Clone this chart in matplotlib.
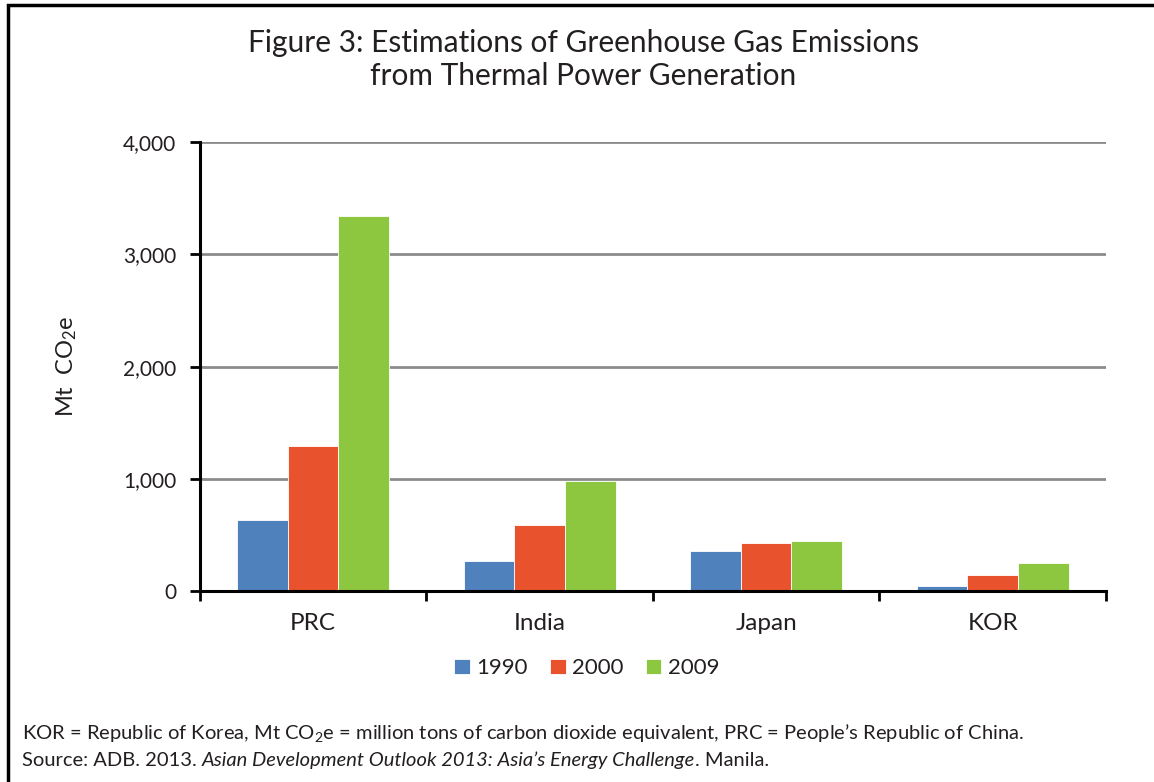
import matplotlib
matplotlib.use("Agg")
import matplotlib.pyplot as plt
import numpy as np
from matplotlib.patches import Rectangle

plt.rcParams['font.family'] = ['Lato', 'DejaVu Sans']
plt.rcParams['mathtext.fontset'] = 'custom'
plt.rcParams['mathtext.rm'] = 'Lato'
plt.rcParams['mathtext.it'] = 'Lato:italic'

# emissions, Mt CO2e
countries = ['PRC', 'India', 'Japan', 'KOR']
years = ['1990', '2000', '2009']
e1990 = [635, 267, 359, 45]
e2000 = [1291, 590, 427, 148]
e2009 = [3342, 982, 451, 249]
colors = ['#4F81BD', '#E8532D', '#8DC63F']
yticks = [0, 1000, 2000, 3000, 4000]

fig = plt.figure(figsize=(11.54, 7.82), dpi=100)
ax = fig.add_axes([0.1733, 0.2439, 0.7851, 0.5745])

x = np.arange(len(countries)) + 0.5
w = 0.223
for k, vals in enumerate([e1990, e2000, e2009]):
    ax.bar(x + (k - 1) * w, vals, w, color=colors[k], edgecolor='white',
           linewidth=0.6, label=years[k], zorder=3)

ax.set_xlim(0, len(countries))
ax.set_ylim(0, 4000)
ax.set_yticks(yticks)
ax.set_yticklabels(['{:,}'.format(v) for v in yticks], fontsize=15)
ax.set_xticks(np.arange(len(countries) + 1))
ax.set_xticklabels([])
for xi, name in zip(x, countries):
    ax.text(xi, -195, name, ha='center', va='top', fontsize=17.5, color='#231f20')

for v in yticks[1:]:
    ax.axhline(v, color='#8c8c8c', lw=2, zorder=1)

for s in ['top', 'right']:
    ax.spines[s].set_visible(False)
for s in ['left', 'bottom']:
    ax.spines[s].set_linewidth(2.2)
    ax.spines[s].set_zorder(4)
ax.tick_params(axis='both', direction='out', length=7, width=2, color='black',
               labelcolor='#231f20')
ax.tick_params(axis='y', pad=10)

ax.set_ylabel('Mt  CO$_2$e', fontsize=17, color='#231f20', labelpad=32)

ax.legend(loc='upper center', bbox_to_anchor=(0.427, -0.105), ncol=3, frameon=False,
          fontsize=16, handlelength=0.7, handleheight=0.7, handletextpad=0.3,
          columnspacing=1.0, labelcolor='#231f20')

fig.text(0.5055, 0.945, 'Figure 3: Estimations of Greenhouse Gas Emissions',
         ha='center', va='center', fontsize=21.5, color='#231f20')
fig.text(0.5055, 0.903, 'from Thermal Power Generation',
         ha='center', va='center', fontsize=21.5, color='#231f20')

# frame around the figure
fig.patches.append(Rectangle((0.0065, -0.05), 1.5, 1.0436, transform=fig.transFigure,
                             fill=False, ec='black', lw=2.5))

# notes, second line mixes roman and italic
fig.text(0.019, 0.0627,
         'KOR = Republic of Korea, Mt CO$_2$e = million tons of carbon dioxide equivalent, '
         'PRC = People\u2019s Republic of China.',
         ha='left', va='center', fontsize=14.5, color='#231f20')

renderer = fig.canvas.get_renderer()
pieces = [('Source: ADB. 2013. ', 'normal'),
          ('Asian Development Outlook 2013: Asia\u2019s Energy Challenge', 'italic'),
          ('. Manila.', 'normal')]
xpos = 0.019
for txt, st in pieces:
    t = fig.text(xpos, 0.028, txt, ha='left', va='center', fontsize=14.5,
                 style=st, color='#231f20')
    bb = t.get_window_extent(renderer=renderer)
    xpos += bb.width / fig.bbox.width

fig.savefig('out.png', dpi=100)
